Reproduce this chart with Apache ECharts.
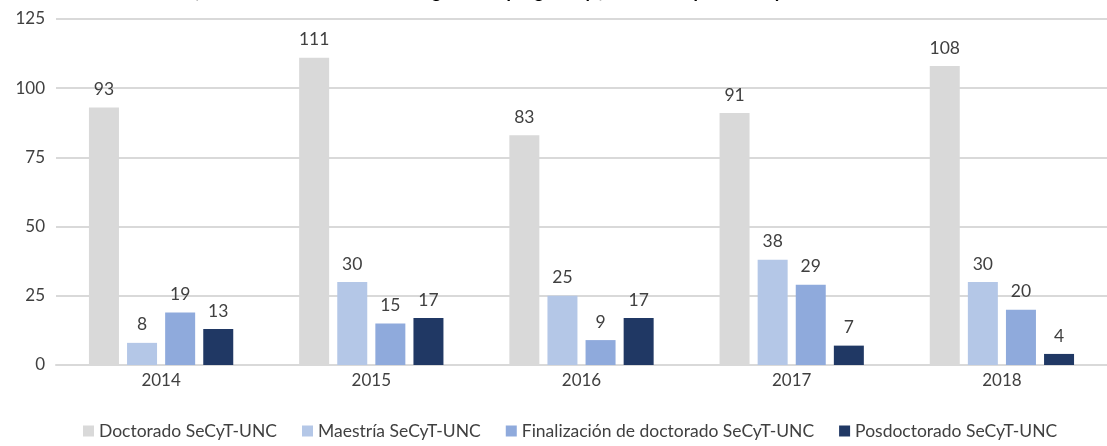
<!DOCTYPE html>
<html>
<head>
<meta charset="utf-8">
<script src="https://cdn.jsdelivr.net/npm/echarts@6/dist/echarts.min.js"></script>
<style>
  html, body { margin: 0; padding: 0; background: #fff; }
  #chart { width: 1107px; height: 446px; }
</style>
</head>
<body>
<div id="chart"></div>
<script>
// datos
var years = ['2014', '2015', '2016', '2017', '2018'];
var doctorado = [93, 111, 83, 91, 108];
var maestria = [8, 30, 25, 38, 30];
var finalizacion = [19, 15, 9, 29, 20];
var posdoctorado = [13, 17, 17, 7, 4];
var yTicks = [0, 25, 50, 75, 100, 125];

var chart = echarts.init(document.getElementById('chart'));
var font = 'Lato, "Open Sans", sans-serif';

function serie(name, data, color) {
    return {
        name: name,
        type: 'bar',
        data: data,
        barWidth: 30,
        barGap: '27%',
        itemStyle: { color: color },
        label: {
            show: true,
            position: 'top',
            distance: 9,
            fontFamily: font,
            fontSize: 17.5,
            color: '#404040'
        }
    };
}

var option = {
    backgroundColor: '#fff',
    animation: false,
    // titulo cortado arriba
    title: {
        text: 'Gráfico 3. Cantidad de becas otorgadas de posgrado y finalización por la SeCyT-UNC. 2014-2018',
        left: 'center',
        top: -23,
        textStyle: {
            fontFamily: font,
            fontSize: 19,
            fontWeight: 'bold',
            fontStyle: 'italic',
            color: '#000'
        }
    },
    grid: {
        left: 56,
        right: -9,
        top: 19,
        bottom: 81
    },
    legend: {
        bottom: 1,
        left: 78,
        itemWidth: 11,
        itemHeight: 11,
        itemGap: 25,
        icon: 'rect',
        textStyle: { fontFamily: font, fontSize: 17.5, color: '#404040' }
    },
    xAxis: {
        type: 'category',
        data: years,
        axisLine: { lineStyle: { color: '#D9D9D9', width: 2 } },
        axisTick: { show: false },
        axisLabel: { fontFamily: font, fontSize: 17, color: '#404040', margin: 7 }
    },
    yAxis: {
        type: 'value',
        min: yTicks[0],
        max: yTicks[yTicks.length - 1],
        interval: 25,
        axisLine: { show: false },
        axisTick: { show: false },
        axisLabel: { fontFamily: font, fontSize: 17, color: '#404040', margin: 11 },
        splitLine: { lineStyle: { color: '#D9D9D9', width: 2 } }
    },
    series: [
        serie('Doctorado SeCyT-UNC', doctorado, '#D9D9D9'),
        serie('Maestría SeCyT-UNC', maestria, '#B4C7E7'),
        serie('Finalización de doctorado SeCyT-UNC', finalizacion, '#8FAADC'),
        serie('Posdoctorado SeCyT-UNC', posdoctorado, '#203864')
    ]
};
chart.setOption(option);
</script>
</body>
</html>
